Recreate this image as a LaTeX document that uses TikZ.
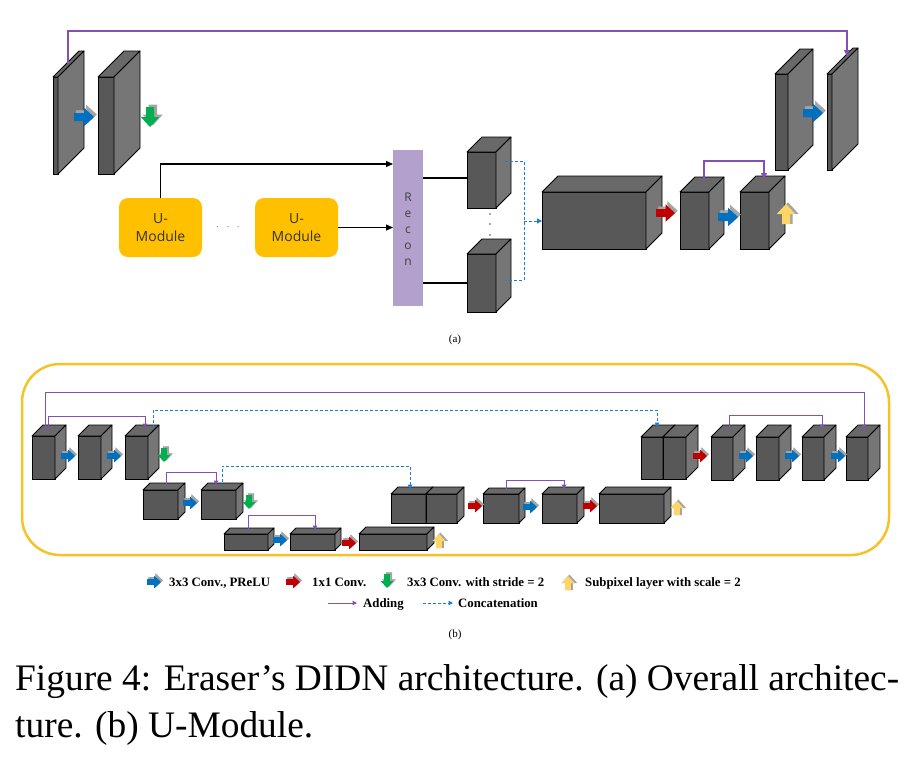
\documentclass[tikz,border=0pt]{standalone}
\usepackage{fontspec}
\setmainfont{Liberation Serif}
\newfontfamily\umfont{Open Sans}
\usetikzlibrary{arrows.meta}

\definecolor{cfront}{RGB}{88,88,88}
\definecolor{ctop}{RGB}{105,105,105}
\definecolor{cside}{RGB}{118,118,118}
\definecolor{addc}{RGB}{130,80,185}
\definecolor{catc}{RGB}{30,125,205}
\definecolor{iblue}{RGB}{0,112,192}
\definecolor{ired}{RGB}{192,0,0}
\definecolor{igreen}{RGB}{0,176,80}
\definecolor{iyellow}{RGB}{255,214,102}
\definecolor{ishadow}{RGB}{165,165,165}
\definecolor{umod}{RGB}{255,192,0}
\definecolor{reconc}{RGB}{180,160,205}
\definecolor{framec}{RGB}{245,195,40}

\tikzset{
  cubefront/.style={draw=black, fill=cfront, line width=0.8pt, inner sep=0pt, outer sep=0pt},
  cubeface/.style={draw=black, line width=0.8pt, line join=round},
  umbox/.style={fill=umod, rounded corners=9pt, minimum width=83pt, minimum height=59pt, inner sep=0pt,
     align=center, text=black!80, font=\umfont\fontsize{14}{18}\selectfont},
  blk/.style={draw=black, line width=1.2pt, -{Triangle[length=7pt,width=6pt]}},
  blkline/.style={draw=black, line width=1.2pt},
  addA/.style={draw=addc, line width=1.4pt, -{Triangle[length=6pt,width=6pt]}},
  addB/.style={draw=addc, line width=1pt, -{Triangle[length=4.5pt,width=4.5pt]}},
  catA/.style={draw=catc, line width=1pt, dash pattern=on 3pt off 2pt},
  catB/.style={draw=catc, line width=1pt, dash pattern=on 3pt off 2pt, -{Triangle[length=4.5pt,width=4.5pt]}},
  legtext/.style={anchor=base west, inner sep=0pt, font=\bfseries\fontsize{12.8}{15}\selectfont},
}

% #1 name, #2 x, #3 y (front top-left), #4 w, #5 h, #6 depth
\newcommand{\cube}[6]{%
  \node[cubefront, minimum width=#4pt, minimum height=#5pt, anchor=north west] (#1) at (#2,#3) {};
  \filldraw[cubeface, fill=ctop] (#1.north west) -- ++(#6,-#6) -- ++(#4,0) -- (#1.north east) -- cycle;
  \filldraw[cubeface, fill=cside] (#1.north east) -- ++(#6,-#6) -- ++(0,#5) -- (#1.south east) -- cycle;
}
% right arrow icon: #1 x (left), #2 y (centre), #3 colour, #4 size
\newcommand{\rarr}[4]{%
  \begin{scope}[shift={(#1,#2)}, x=#4pt, y=-#4pt]
    \filldraw[fill=ishadow, draw=ishadow, line width=0.6pt, shift={(0.12,-0.12)}]
      (0,-0.2) -- (0.5,-0.2) -- (0.5,-0.46) -- (1,0) -- (0.5,0.46) -- (0.5,0.2) -- (0,0.2) -- cycle;
    \fill[#3] (0,-0.2) -- (0.5,-0.2) -- (0.5,-0.46) -- (1,0) -- (0.5,0.46) -- (0.5,0.2) -- (0,0.2) -- cycle;
  \end{scope}}
% down arrow icon: #1 x (centre), #2 y (top)
\newcommand{\darr}[4]{%
  \begin{scope}[shift={(#1,#2)}, x=#4pt, y=-#4pt]
    \filldraw[fill=ishadow, draw=ishadow, line width=0.6pt, shift={(0.14,-0.1)}]
      (-0.2,0) -- (0.2,0) -- (0.2,0.5) -- (0.46,0.5) -- (0,1) -- (-0.46,0.5) -- (-0.2,0.5) -- cycle;
    \fill[#3] (-0.2,0) -- (0.2,0) -- (0.2,0.5) -- (0.46,0.5) -- (0,1) -- (-0.46,0.5) -- (-0.2,0.5) -- cycle;
  \end{scope}}
% up arrow icon: #1 x (centre), #2 y (bottom)
\newcommand{\uarr}[4]{%
  \begin{scope}[shift={(#1,#2)}, x=#4pt, y=-#4pt]
    \filldraw[fill=ishadow, draw=ishadow, line width=1.2pt, shift={(0.1,-0.04)}]
      (-0.2,0) -- (0.2,0) -- (0.2,-0.5) -- (0.46,-0.5) -- (0,-1) -- (-0.46,-0.5) -- (-0.2,-0.5) -- cycle;
    \fill[#3] (-0.2,0) -- (0.2,0) -- (0.2,-0.5) -- (0.46,-0.5) -- (0,-1) -- (-0.46,-0.5) -- (-0.2,-0.5) -- cycle;
  \end{scope}}

\begin{document}
\begin{tikzpicture}[x=1pt, y=-1pt]
\useasboundingbox[fill=white] (0,0) rectangle (922,764);

%%%%%%%%%%%%%%%% (a) %%%%%%%%%%%%%%%%
\cube{sa}{53}{77}{5}{97}{26}
\cube{sb}{98}{77}{16}{97}{26}
\cube{sc}{775}{74}{13}{96}{25}
\cube{sd}{827}{74}{5}{96}{26}
\rarr{74}{117}{iblue}{20}
\darr{150}{107}{igreen}{20}
\rarr{803}{113}{iblue}{20}

\coordinate (t1) at (68,64);
\coordinate (t2) at (847,56);
\draw[addA] (t1) -- ++(0,-33) -| (t2);

\node[umbox] (um1) at (160.5,227.5) {U-\\Module};
\node[umbox] (um2) at (296.5,227.5) {U-\\Module};
\node[font=\umfont\fontsize{10}{12}\selectfont, text=black!60] (dots) at (228,227) {$\cdot\ \ \cdot\ \ \cdot$};

\node[fill=reconc, minimum width=30pt, minimum height=156pt, inner sep=0pt, anchor=north west] (recon) at (393,150) {};
\node[align=center, text=black!75, font=\umfont\fontsize{12}{16}\selectfont] (rtext) at (408,229) {R\\e\\c\\o\\n};

\coordinate (r1) at (393,164);
\draw[blk] (um1.north) |- (r1);
\draw[blk] (um2.east) -- (recon.west |- um2.east);

\cube{ua}{467}{152}{29}{56}{15}
\cube{ub}{467}{254}{29}{58}{15}
\coordinate (l1) at (423,178);
\coordinate (l2) at (423,283);
\draw[blkline] (l1) -- (ua.west |- l1);
\draw[blkline] (l2) -- (ub.west |- l2);
\foreach \yy in {214,224,235} \fill[black!70] (490,\yy) circle (0.9);

\cube{bb}{542}{192}{104}{57}{16}
\cube{ca}{680}{192}{29}{57}{15}
\cube{cb}{740}{192}{29}{57}{16}

\coordinate (d1) at (505,161);
\coordinate (d2) at (505,280);
\coordinate (dm) at (524,221);
\draw[catA] (d1) -- (524,161) -- (524,280) -- (d2);
\draw[catA, -{Triangle[length=5pt,width=5pt]}] (dm) -- (bb.west |- dm);

\rarr{656}{213}{ired}{19}
\rarr{718}{217}{iblue}{20}
\uarr{786}{224}{iyellow}{20}

\coordinate (p1) at (704,180);
\coordinate (p2) at (764,179);
\draw[addA] (p1) -- ++(0,-19) -| (p2);

\node[font=\fontsize{11}{13}\selectfont] (lbla) at (455,340) {(a)};

%%%%%%%%%%%%%%%% (b) %%%%%%%%%%%%%%%%
\draw[framec, line width=2.5pt, rounded corners=38pt] (22,364) rectangle (889,555);

\cube{c1}{32}{436}{23}{43}{11}
\cube{c2}{78}{436}{23}{43}{11}
\cube{c3}{125}{436}{23}{43}{11}
\cube{c4}{143}{490}{35}{29}{7}
\cube{c5}{201}{490}{35}{29}{7}
\cube{c6}{224}{534}{44}{16}{6}
\cube{c7}{290}{534}{45}{16}{6}
\cube{c8}{359}{534}{68}{16}{7}
\cube{c9}{391}{494}{35}{29}{7}
\cube{c10}{426}{494}{31}{29}{7}
\cube{c11}{483}{494}{36}{29}{6}
\cube{c12}{542}{494}{35}{29}{7}
\cube{c13}{599}{494}{65}{29}{7}
\cube{c14}{641}{437}{22}{42}{12}
\cube{c15}{663}{437}{23}{42}{12}
\cube{c16}{711}{437}{22}{43}{12}
\cube{c17}{756}{437}{23}{43}{12}
\cube{c18}{802}{437}{22}{43}{12}
\cube{c19}{846}{437}{22}{43}{12}

\rarr{61}{456}{iblue}{14}
\rarr{107}{456}{iblue}{14}
\darr{164}{448}{igreen}{14}
\rarr{183}{503}{iblue}{14}
\darr{249}{495}{igreen}{14}
\rarr{273}{540}{iblue}{14}
\rarr{342}{543}{ired}{14}
\uarr{439}{548}{iyellow}{14}
\rarr{468}{506}{ired}{14}
\rarr{523}{507}{iblue}{14}
\rarr{583}{506}{ired}{14}
\uarr{677}{515}{iyellow}{14}
\rarr{693}{456}{ired}{14}
\rarr{739}{456}{iblue}{14}
\rarr{785}{456}{iblue}{14}
\rarr{831}{456}{iblue}{14}

\coordinate (o1) at (45,431);   \coordinate (o2) at (864,429);
\coordinate (i1) at (48,430);   \coordinate (i2) at (145,428);
\coordinate (k1) at (153,428);  \coordinate (k2) at (657,427);
\coordinate (q1) at (166,487);  \coordinate (q2) at (216,485);
\coordinate (k3) at (222,487);  \coordinate (k4) at (410,489);
\coordinate (q3) at (248,531);  \coordinate (q4) at (315,530);
\coordinate (q5) at (506,490);  \coordinate (q6) at (564,489);
\coordinate (q7) at (729,430);  \coordinate (q8) at (822,429);

\draw[addB] (o1) -- ++(0,-39) -| (o2);
\draw[addB] (i1) -- ++(0,-14) -| (i2);
\draw[catB] (k1) -- ++(0,-18) -| (k2);
\draw[addB] (q1) -- ++(0,-15) -| (q2);
\draw[catB] (k3) -- ++(0,-21) -| (k4);
\draw[addB] (q3) -- ++(0,-16) -| (q4);
\draw[addB] (q5) -- ++(0,-10) -| (q6);
\draw[addB] (q7) -- ++(0,-15) -| (q8);

%%%%%%%%%%%%%%%% legend %%%%%%%%%%%%%%%%
\rarr{147}{582}{iblue}{14}
\node[legtext] (lg1) at (169,586) {3x3 Conv., PReLU};
\rarr{286}{582}{ired}{14}
\node[legtext] (lg2) at (312,586) {1x1 Conv.};
\darr{387}{574}{igreen}{14}
\node[legtext] (lg3) at (407,586) {3x3 Conv. with stride = 2};
\uarr{568}{590}{iyellow}{14}
\node[legtext] (lg4) at (585,586) {Subpixel layer with scale = 2};

\coordinate (la1) at (328,603); \coordinate (la2) at (357,603);
\draw[addB] (la1) -- (la2);
\node[legtext] (lg5) at (363,607) {Adding};
\coordinate (lc1) at (423,603); \coordinate (lc2) at (453,603);
\draw[catB] (lc1) -- (lc2);
\node[legtext] (lg6) at (458,607) {Concatenation};

\node[font=\fontsize{11}{13}\selectfont] (lblb) at (455,635) {(b)};

%%%%%%%%%%%%%%%% caption %%%%%%%%%%%%%%%%
\node[anchor=base west, inner sep=0pt, font=\fontsize{37.4}{45}\selectfont] (cap1) at (15,690)
  {Figure 4: Eraser’s DIDN architecture. (a) Overall architec-};
\node[anchor=base west, inner sep=0pt, font=\fontsize{37.4}{45}\selectfont] (cap2) at (15,737)
  {ture. (b) U-Module.};
\end{tikzpicture}
\end{document}
